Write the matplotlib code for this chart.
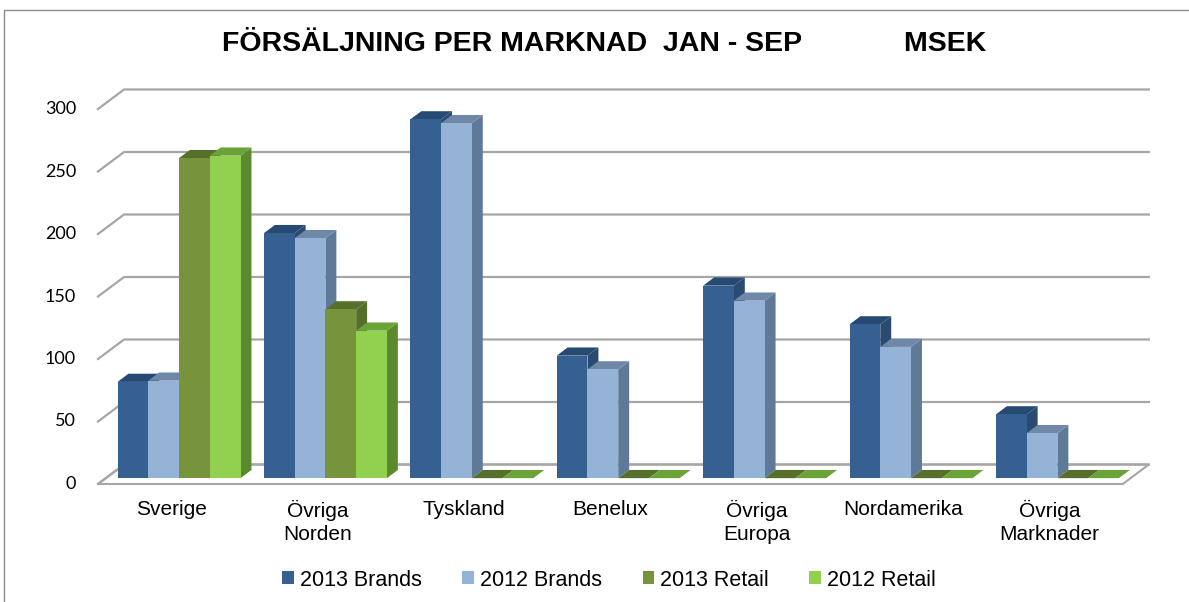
import numpy as np
import matplotlib
matplotlib.use('Agg')
import matplotlib.pyplot as plt
from matplotlib.patches import Polygon, Patch
from matplotlib.lines import Line2D

plt.rcParams['font.family'] = ['Liberation Sans', 'DejaVu Sans']

# data (MSEK)
categories = ['Sverige', 'Övriga\nNorden', 'Tyskland', 'Benelux',
              'Övriga\nEuropa', 'Nordamerika', 'Övriga\nMarknader']
series_names = ['2013 Brands', '2012 Brands', '2013 Retail', '2012 Retail']
brands_2013 = [77, 196, 287, 98, 154, 123, 51]
brands_2012 = [78, 192, 284, 87, 142, 105, 36]
retail_2013 = [256, 135, 0, 0, 0, 0, 0]
retail_2012 = [258, 118, 0, 0, 0, 0, 0]
yticks = [0, 50, 100, 150, 200, 250, 300]

series = [brands_2013, brands_2012, retail_2013, retail_2012]
# front, top, side colours per series
front_cols = ['#376092', '#95b3d7', '#77933c', '#92d050']
top_cols = ['#264a73', '#6f88a8', '#566f2a', '#6aa338']
side_cols = ['#2a4a72', '#5f7a98', '#56702c', '#5b8a2e']

fig = plt.figure(figsize=(11.89, 6.02), dpi=100)
ax = fig.add_axes([0, 0, 1, 1])
# pixel mapping: x_px = 98 + 146.4*x, y_px = 484 - 1.25*v
ax.set_xlim(-98 / 146.4, (1189 - 98) / 146.4)
ax.set_ylim((484 - 602) / 1.25, 484 / 1.25)
ax.axis('off')

n = len(categories)
DX, DY = 0.178, 15.6      # depth of floor in data units
f0, fd = 0.3, 0.42        # bar depth start / thickness (fraction of floor depth)
bw = 0.21
grid_col = '#a6a6a6'

# floor
floor = Polygon([(0, 0), (n, 0), (n + DX, DY), (DX, DY)], closed=True,
                facecolor='white', edgecolor=grid_col, lw=1.5, zorder=1)
ax.add_patch(floor)

# back wall gridlines
for v in yticks:
    ax.plot([0, DX, n + DX], [v, v + DY, v + DY], color=grid_col, lw=1.6,
            zorder=1, solid_joinstyle='miter')
    ax.text(-0.15, v, str(v), ha='right', va='center', fontsize=13,
            family=['Lato', 'DejaVu Sans'])

# bars with fake 3D depth
for i in range(n):
    for s, vals in enumerate(series):
        v = vals[i]
        x0 = i + 0.08 + s * bw + f0 * DX
        y0 = f0 * DY
        ddx, ddy = fd * DX, fd * DY
        side = Polygon([(x0 + bw, y0), (x0 + bw + ddx, y0 + ddy),
                        (x0 + bw + ddx, y0 + v + ddy), (x0 + bw, y0 + v)],
                       facecolor=side_cols[s], edgecolor='none', zorder=2)
        top = Polygon([(x0, y0 + v), (x0 + bw, y0 + v),
                       (x0 + bw + ddx, y0 + v + ddy), (x0 + ddx, y0 + v + ddy)],
                      facecolor=top_cols[s], edgecolor='none', zorder=2)
        ax.add_patch(side)
        ax.add_patch(top)
        if v > 0:
            front = Polygon([(x0, y0), (x0 + bw, y0), (x0 + bw, y0 + v), (x0, y0 + v)],
                            facecolor=front_cols[s], edgecolor='none', zorder=2)
            ax.add_patch(front)

# category labels
for i, c in enumerate(categories):
    ax.text(i + 0.5, -12.5, c, ha='center', va='top', fontsize=15,
            linespacing=1.3)

# title
fig.text(222 / 1189, 1 - 44 / 602,
         'FÖRSÄLJNING PER MARKNAD  JAN - SEP             MSEK',
         ha='left', va='center', fontsize=20.5, fontweight='bold')

# legend
handles = [Patch(facecolor=front_cols[s], edgecolor='none') for s in range(4)]
fig.legend(handles, series_names, loc='center', ncol=4, frameon=False,
           bbox_to_anchor=(609 / 1189, 1 - 580 / 602), fontsize=15.5,
           handlelength=0.55, handleheight=0.55, handletextpad=0.25,
           columnspacing=1.9)

# outer chart border (top and left)
fig.add_artist(Line2D([4 / 1189, 4 / 1189, 1], [0, 1 - 10 / 602, 1 - 10 / 602],
                      color='#8c8c8c', lw=1.0, transform=fig.transFigure))

fig.savefig('out.png', dpi=100)
